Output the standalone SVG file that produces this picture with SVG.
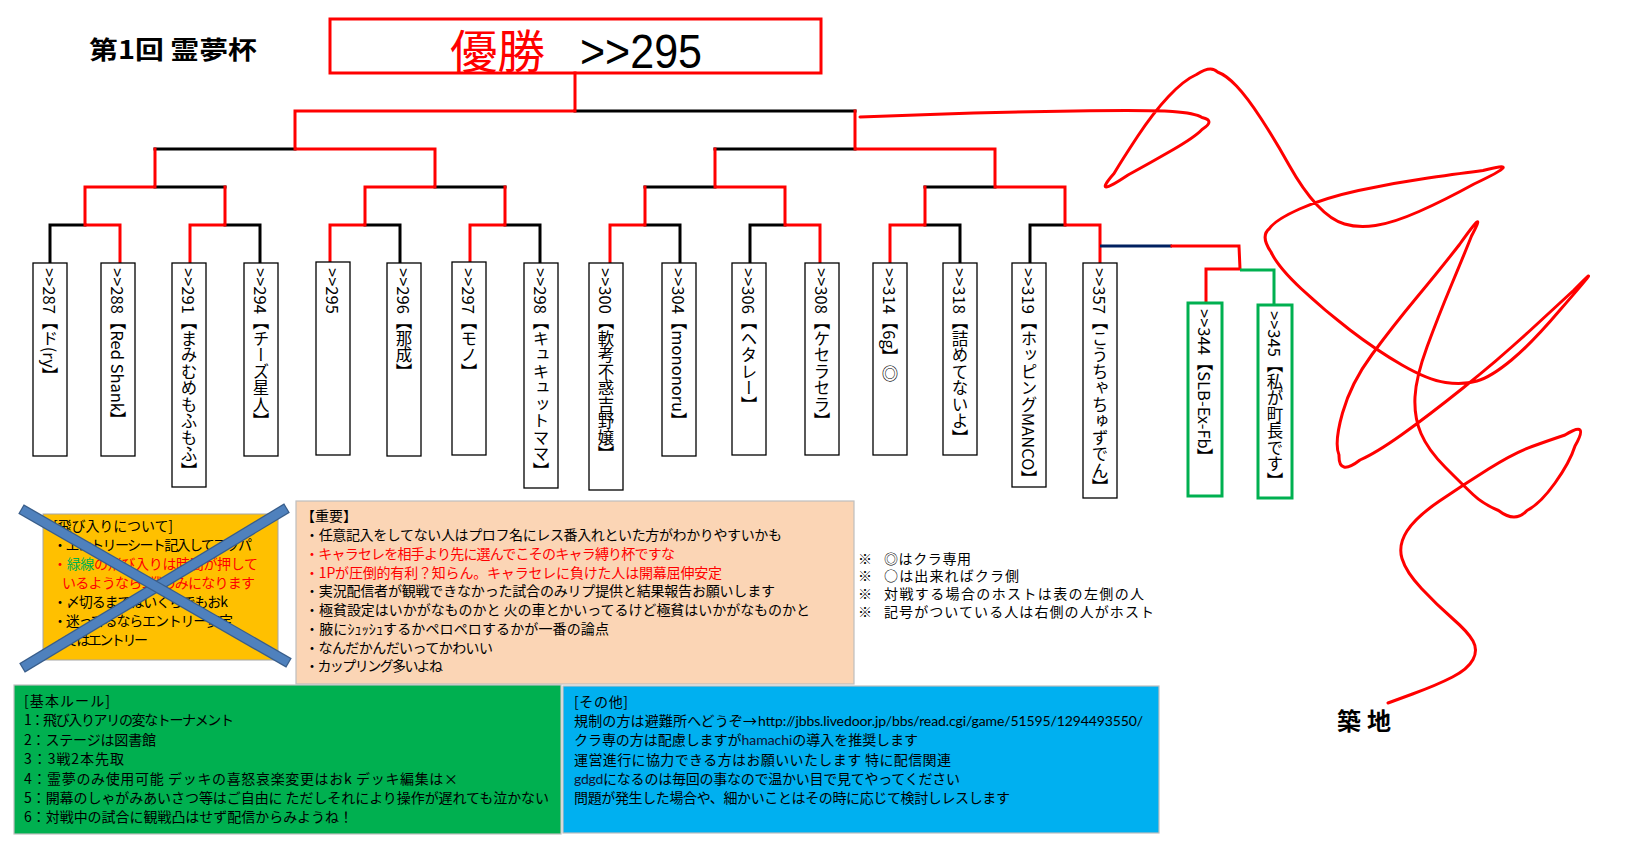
<svg xmlns="http://www.w3.org/2000/svg" width="1626" height="855" viewBox="0 0 1626 855">
<style>
.k{stroke:#000;stroke-width:3;stroke-linecap:square;fill:none}
.r{stroke:#f00;stroke-width:3;stroke-linecap:square;fill:none}
.nv{stroke:#002060;stroke-width:3;fill:none}
.gl{stroke:#00B050;stroke-width:3;fill:none}
.box{fill:#fff;stroke:#000;stroke-width:1.3}
.gbox{fill:#fff;stroke:#00B050;stroke-width:3}
.vt{font-family:"Noto Sans CJK JP","Noto Sans CJK SC",sans-serif;font-size:16.5px;writing-mode:vertical-rl;fill:#000}
.t{font-family:"Noto Sans CJK JP","Noto Sans CJK SC",sans-serif;font-size:14px;fill:#000}
.red{fill:#f00}
.lat{font-family:Lato,"Open Sans",sans-serif}
</style>

<g id="title">
<text x="89" y="59" font-family="'Noto Sans CJK JP',sans-serif" font-size="25" font-weight="bold" textLength="168" lengthAdjust="spacingAndGlyphs">第1回 霊夢杯</text>
</g>

<g id="winner">
<rect x="330" y="19" width="491" height="54" fill="#fff" stroke="#f00" stroke-width="3"/>
<text x="450" y="68" font-family="'Noto Sans CJK JP',sans-serif" font-size="46" fill="#f00" textLength="95" lengthAdjust="spacingAndGlyphs">優勝</text>
<text x="580" y="68" font-family="'Liberation Sans',Arial,sans-serif" font-size="48" fill="#000" textLength="122" lengthAdjust="spacingAndGlyphs">&gt;&gt;295</text>
</g>

<g id="connectors">
<path class="k" d="M50,225H85M50,225V263M225,225H260M260,225V263M365,225H400M400,225V263M505,225H540M540,225V263M645,225H680M680,225V263M750,225H785M750,225V263M925,225H960M960,225V263M1030,225H1065M1030,225V263M155,187H225M435,187H505M645,187H715M925,187H995M155,149H295M715,149H855M575,111H855"/>
<path class="r" d="M85,225H120M120,225V263M190,225H225M190,225V263M330,225H365M330,225V263M470,225H505M470,225V263M610,225H645M610,225V263M785,225H820M820,225V263M890,225H925M890,225V263M1065,225H1100M1100,225V263M85,187V225M225,187V225M365,187V225M505,187V225M645,187V225M785,187V225M925,187V225M1065,187V225M85,187H155M365,187H435M715,187H785M995,187H1065M155,149V187M435,149V187M715,149V187M995,149V187M295,149H435M855,149H995M295,111V149M855,111V149M295,111H575M575,73V111"/>
<path class="nv" d="M1100,246H1172"/>
<path class="r" d="M1172,246H1239L1240,269H1206V303" stroke-linecap="butt"/>
<path class="gl" d="M1240,270H1274V305"/>
</g>

<g id="n287"><rect class="box" x="33" y="263" width="34" height="193"/><text class="vt" x="50" y="268">&gt;&gt;287【ド(ry】</text></g>
<g id="n288"><rect class="box" x="101" y="263" width="34" height="193"/><text class="vt" x="118" y="268">&gt;&gt;288【Red Shank】</text></g>
<g id="n291"><rect class="box" x="172" y="263" width="34" height="224"/><text class="vt" x="189" y="268">&gt;&gt;291【まみむめもふもふ】</text></g>
<g id="n294"><rect class="box" x="244" y="263" width="34" height="193"/><text class="vt" x="261" y="268">&gt;&gt;294【チーズ星人】</text></g>
<g id="n295"><rect class="box" x="316" y="262" width="34" height="193"/><text class="vt" x="333" y="268">&gt;&gt;295</text></g>
<g id="n296"><rect class="box" x="387" y="263" width="34" height="193"/><text class="vt" x="404" y="268">&gt;&gt;296【那成】</text></g>
<g id="n297"><rect class="box" x="452" y="262" width="34" height="193"/><text class="vt" x="469" y="268">&gt;&gt;297【モノ】</text></g>
<g id="n298"><rect class="box" x="524" y="263" width="34" height="225"/><text class="vt" x="541" y="268">&gt;&gt;298【キュキュットママ】</text></g>
<g id="n300"><rect class="box" x="589" y="263" width="34" height="227"/><text class="vt" x="606" y="268">&gt;&gt;300【軟考不惑吉野嬢】</text></g>
<g id="n304"><rect class="box" x="662" y="263" width="34" height="193"/><text class="vt" x="679" y="268">&gt;&gt;304【mononoru】</text></g>
<g id="n306"><rect class="box" x="732" y="263" width="34" height="192"/><text class="vt" x="749" y="268">&gt;&gt;306【ヘタレー】</text></g>
<g id="n308"><rect class="box" x="805" y="263" width="34" height="192"/><text class="vt" x="822" y="268">&gt;&gt;308【ケセラセラ】</text></g>
<g id="n314"><rect class="box" x="873" y="263" width="34" height="192"/><text class="vt" x="890" y="268">&gt;&gt;314【6g】◎</text></g>
<g id="n318"><rect class="box" x="943" y="263" width="34" height="192"/><text class="vt" x="960" y="268">&gt;&gt;318【詰めてないよ】</text></g>
<g id="n319"><rect class="box" x="1012" y="263" width="34" height="224"/><text class="vt" x="1029" y="268">&gt;&gt;319【ホッピングMANCO】</text></g>
<g id="n357"><rect class="box" x="1083" y="263" width="34" height="235"/><text class="vt" x="1100" y="268">&gt;&gt;357【こうちゃちゅずでん】</text></g>
<g id="n344"><rect class="gbox" x="1188" y="303" width="34" height="193"/><text class="vt" x="1205" y="309">&gt;&gt;344【SLB-Ex-Fb】</text></g>
<g id="n345"><rect class="gbox" x="1258" y="305" width="34" height="193"/><text class="vt" x="1275" y="311">&gt;&gt;345【私が町長です】</text></g>

<g id="scribble">
<path fill="none" stroke="#f00" stroke-width="3" stroke-linecap="round" stroke-linejoin="round" d="M860,117 L930,114.5 Q1000,112 1075,111 Q1150,110 1172.5,111.5 Q1195,113 1202,117.5 Q1216,120.5 1202,129.5 Q1195,137 1172.5,150 Q1150,163 1128,175 Q1091,199.75 1114,173.5 Q1122,160 1137.5,136.5 Q1153,113 1168.5,96.5 Q1184,80 1196.5,74.5 Q1211,64.75 1217.5,72 Q1226,75 1236.5,86 Q1247,97 1261,118.5 Q1275,140 1289,165 Q1303,190 1317,205 Q1331,220 1344.5,224 Q1358,228 1375.5,225.5 Q1393,223 1419,211.5 Q1445,200 1474,184 Q1527.5,158.75 1483,170.5 Q1463,173 1428,178 Q1393,183 1358.5,190.5 Q1324,198 1299.5,209 Q1275,220 1269.5,228.5 Q1260,236 1271,252 Q1278,267 1301,288.5 Q1324,310 1350,330 Q1376,350 1402,365 Q1428,380 1445.5,382.5 Q1463,385 1477,381 Q1491,377 1511.5,360 Q1532,343 1560,310 Q1609,254 1574,290 Q1560,303 1529,331.5 Q1498,360 1463,388 Q1428,416 1402,434.5 Q1376,453 1360,460 Q1338.5,476.5 1339,455 Q1334,443 1342.5,413 Q1351,383 1372,354.5 Q1393,326 1417.5,296.5 Q1442,267 1459.5,244.5 Q1488.5,203.75 1471.5,236 Q1466,250 1452,283.5 Q1438,317 1427,347 Q1416,377 1415,397 Q1414,417 1421,433.5 Q1428,450 1445.5,467.5 Q1463,485 1473,494.5 Q1483,504 1498.5,510.5 Q1515.25,523.5 1527,510.5 Q1540,504 1555,483 Q1570,462 1575,446 Q1590,419.5 1565,435 Q1550,440 1532,446.5 Q1514,453 1488.5,469 Q1463,485 1439.5,501 Q1416,517 1407,531 Q1398,545 1402,558.5 Q1406,572 1421.5,588.5 Q1437,605 1452.5,618.5 Q1468,632 1473,641 Q1478,650 1473,659.5 Q1468,669 1452.5,677 Q1437,685 1412.5,694 L1388,703"/>
<text x="1337" y="730" font-family="'Noto Sans CJK JP',serif" font-size="24" font-weight="bold" textLength="54" lengthAdjust="spacing">築地</text>
</g>

<g id="notes">
<text class="t" x="858" y="564">※</text><text class="t" x="884" y="564" textLength="87">◎はクラ専用</text>
<text class="t" x="858" y="581">※</text><text class="t" x="884" y="581" textLength="135">○は出来ればクラ側</text>
<text class="t" x="858" y="599">※</text><text class="t" x="884" y="599" textLength="260">対戦する場合のホストは表の左側の人</text>
<text class="t" x="858" y="617">※</text><text class="t" x="884" y="617" textLength="270">記号がついている人は右側の人がホスト</text>
</g>

<g id="important">
<rect x="296" y="501" width="558" height="183" fill="#FBD5B5" stroke="#BFBFBF" stroke-width="1.2"/>
<text class="t" x="301" y="521">【重要】</text>
<text class="t" x="305" y="540" textLength="477">・任意記入をしてない人はプロフ名にレス番入れといた方がわかりやすいかも</text>
<text class="t red" x="305" y="559" textLength="370">・キャラセレを相手より先に選んでこそのキャラ縛り杯ですな</text>
<text class="t red" x="305" y="578" textLength="417">・1Pが圧倒的有利？知らん。キャラセレに負けた人は開幕屈伸安定</text>
<text class="t" x="305" y="596" textLength="470">・実況配信者が観戦できなかった試合のみリプ提供と結果報告お願いします</text>
<text class="t" x="305" y="615" textLength="505">・極貧設定はいかがなものかと 火の車とかいってるけど極貧はいかがなものかと</text>
<text class="t" x="305" y="634" textLength="304">・腋にｼｭｯｼｭするかペロペロするかが一番の論点</text>
<text class="t" x="305" y="653" textLength="188">・なんだかんだいってかわいい</text>
<text class="t" x="305" y="671" textLength="138">・カップリング多いよね</text>
</g>

<g id="entry">
<rect x="43" y="514" width="235" height="146" fill="#FFC000" stroke="#A6A6A6" stroke-width="1"/>
<text class="t" x="53" y="531" textLength="120">[飛び入りについて]</text>
<text class="t" x="53" y="550" textLength="199">・エントリーシート記入してアッパ</text>
<text class="t red" x="53" y="569" textLength="205">・<tspan fill="#00B050">緑線</tspan>の飛び入りは時間が押して</text>
<text class="t red" x="62" y="588" textLength="193">いるようなら1戦のみになります</text>
<text class="t" x="53" y="607" textLength="175">・〆切るまではいくらでもおk</text>
<text class="t" x="53" y="626" textLength="180">・迷ってるならエントリー安定</text>
<text class="t" x="53" y="645" textLength="95">・ではエントリー</text>
<g id="cross">
<line x1="22" y1="668" x2="287" y2="508" stroke="#385D8A" stroke-width="11"/>
<line x1="23" y1="667.4" x2="286" y2="508.6" stroke="#4F81BD" stroke-width="8.5"/>
<line x1="21" y1="509" x2="289" y2="663" stroke="#385D8A" stroke-width="11"/>
<line x1="22" y1="509.6" x2="288" y2="662.4" stroke="#4F81BD" stroke-width="8.5"/>
</g>
</g>

<g id="rules">
<rect x="14" y="685" width="547" height="149" fill="#00B050" stroke="#BFBFBF" stroke-width="1.2"/>
<text class="t" x="24" y="706" textLength="86">[基本ルール]</text>
<text class="t" x="24" y="725" textLength="210">1：飛び入りアリの変なトーナメント</text>
<text class="t" x="24" y="745" textLength="132">2：ステージは図書館</text>
<text class="t" x="24" y="764" textLength="100">3：3戦2本先取</text>
<text class="t" x="24" y="784" textLength="434">4：霊夢のみ使用可能 デッキの喜怒哀楽変更はおk デッキ編集は×</text>
<text class="t" x="24" y="803" textLength="525">5：開幕のしゃがみあいさつ等はご自由に ただしそれにより操作が遅れても泣かない</text>
<text class="t" x="24" y="822" textLength="329">6：対戦中の試合に観戦凸はせず配信からみようね！</text>
</g>

<g id="other">
<rect x="563" y="686" width="596" height="147" fill="#00B0F0" stroke="#BFBFBF" stroke-width="1.2"/>
<text class="t" x="574" y="707" textLength="54">[その他]</text>
<text class="t" x="574" y="726" textLength="183">規制の方は避難所へどうぞ→</text>
<text class="t lat" x="758" y="726" fill="#111133" textLength="385">http://jbbs.livedoor.jp/bbs/read.cgi/game/51595/1294493550/</text>
<text class="t" x="574" y="745" textLength="344">クラ専の方は配慮しますが<tspan class="lat" fill="#111133">hamachi</tspan>の導入を推奨します</text>
<text class="t" x="574" y="765" textLength="377">運営進行に協力できる方はお願いいたします 特に配信関連</text>
<text class="t" x="574" y="784" textLength="386"><tspan class="lat" fill="#111133">gdgd</tspan>になるのは毎回の事なので温かい目で見てやってください</text>
<text class="t" x="574" y="803" textLength="436">問題が発生した場合や、細かいことはその時に応じて検討しレスします</text>
</g>
</svg>
